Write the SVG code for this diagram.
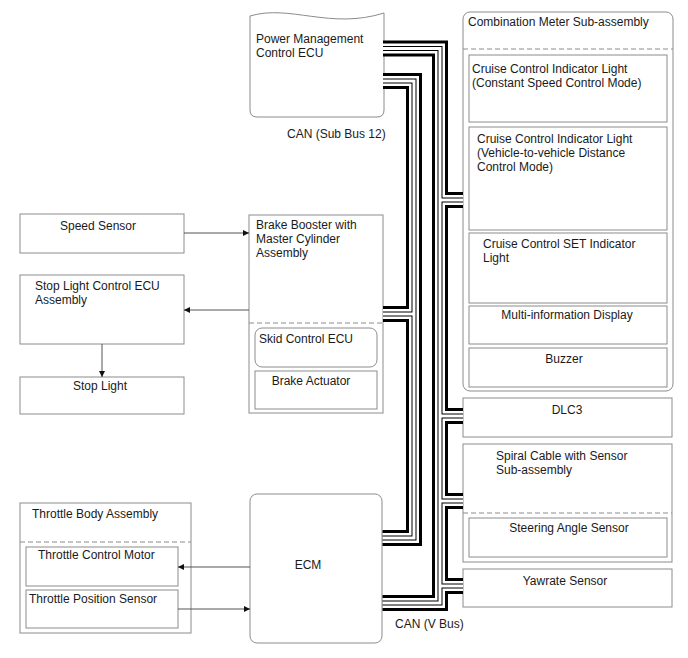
<svg xmlns="http://www.w3.org/2000/svg" xmlns:xlink="http://www.w3.org/1999/xlink" width="688" height="658" viewBox="0 0 688 658">
<style>
  .box { fill: #ffffff; stroke: #8c8c8c; stroke-width: 1; }
  .dash { fill: none; stroke: #8c8c8c; stroke-width: 1; stroke-dasharray: 5 3; }
  text { font-family: "Liberation Sans", Arial, sans-serif; font-size: 12px; fill: #1a1a1a; }
  .mid { text-anchor: middle; }
  .arrow { fill: none; stroke: #555555; stroke-width: 1; marker-end: url(#ah); }
  .c1 { fill: none; stroke: #000000; stroke-width: 16; stroke-linejoin: miter; }
  .c2 { fill: none; stroke: #ffffff; stroke-width: 10; stroke-linejoin: miter; }
  .c3 { fill: none; stroke: #000000; stroke-width: 5; stroke-linejoin: miter; }
  .c4 { fill: none; stroke: #ffffff; stroke-width: 3; stroke-linejoin: miter; }
</style>
<defs>
  <marker id="ah" viewBox="0 0 10 10" refX="10" refY="5" markerWidth="9" markerHeight="6" markerUnits="userSpaceOnUse" orient="auto">
    <path d="M0 0 L10 5 L0 10 Z" fill="#111111"/>
  </marker>
  <path id="trunk" d="M383 48.5 H440 V603 H382.5"/>
  <path id="bus2" d="M383 81 H414 V538 H382.5"/>
  <path id="brBooster" d="M383 314 H414"/>
  <path id="brMeter" d="M440 200 H463"/>
  <path id="brDlc" d="M440 416 H463"/>
  <path id="brSpiral" d="M440 501 H463"/>
  <path id="brYaw" d="M440 586 H463"/>
</defs>

<g id="pm-ecu">
  <path class="box" d="M250 16 C290 4 330 30 384 13 L384 110 Q384 117 377 117 H257 Q250 117 250 110 Z"/>
  <text x="256" y="43">Power Management</text>
  <text x="256" y="57">Control ECU</text>
</g>

<g id="combination-meter">
  <rect class="box" x="463" y="12" width="210" height="379" rx="7"/>
  <text x="468" y="26">Combination Meter Sub-assembly</text>
  <line class="dash" x1="463" y1="49" x2="673" y2="49"/>
  <g id="cc-indicator-constant">
    <rect class="box" x="469" y="55" width="198" height="67"/>
    <text x="472" y="73">Cruise Control Indicator Light</text>
    <text x="472" y="87">(Constant Speed Control Mode)</text>
  </g>
  <g id="cc-indicator-distance">
    <rect class="box" x="469" y="127" width="198" height="103"/>
    <text x="477" y="143">Cruise Control Indicator Light</text>
    <text x="477" y="157">(Vehicle-to-vehicle Distance</text>
    <text x="477" y="171">Control Mode)</text>
  </g>
  <g id="cc-set-indicator">
    <rect class="box" x="469" y="233" width="198" height="70"/>
    <text x="483" y="248">Cruise Control SET Indicator</text>
    <text x="483" y="262">Light</text>
  </g>
  <g id="multi-info-display">
    <rect class="box" x="469" y="306" width="198" height="38"/>
    <text class="mid" x="567" y="319">Multi-information Display</text>
  </g>
  <g id="buzzer">
    <rect class="box" x="469" y="348" width="198" height="39"/>
    <text class="mid" x="564" y="363">Buzzer</text>
  </g>
</g>

<g id="dlc3">
  <rect class="box" x="463" y="398" width="209" height="39"/>
  <text class="mid" x="567" y="414">DLC3</text>
</g>

<g id="spiral-cable">
  <rect class="box" x="463" y="444" width="209" height="118"/>
  <text x="496" y="460">Spiral Cable with Sensor</text>
  <text x="496" y="474">Sub-assembly</text>
  <line class="dash" x1="463" y1="513" x2="672" y2="513"/>
  <g id="steering-angle-sensor">
    <rect class="box" x="469" y="518" width="198" height="39"/>
    <text class="mid" x="569" y="532">Steering Angle Sensor</text>
  </g>
</g>

<g id="yawrate-sensor">
  <rect class="box" x="463" y="569" width="209" height="38"/>
  <text class="mid" x="565" y="585">Yawrate Sensor</text>
</g>

<g id="speed-sensor">
  <rect class="box" x="20" y="214" width="164" height="39"/>
  <text class="mid" x="98" y="230">Speed Sensor</text>
</g>

<g id="stop-light-ecu">
  <rect class="box" x="20" y="275" width="164" height="69"/>
  <text x="35" y="290">Stop Light Control ECU</text>
  <text x="35" y="304">Assembly</text>
</g>

<g id="stop-light">
  <rect class="box" x="20" y="377" width="164" height="37"/>
  <text class="mid" x="100" y="390">Stop Light</text>
</g>

<g id="brake-booster">
  <rect class="box" x="249" y="215" width="134" height="198"/>
  <text x="256" y="229">Brake Booster with</text>
  <text x="256" y="243">Master Cylinder</text>
  <text x="256" y="257">Assembly</text>
  <line class="dash" x1="249" y1="323" x2="383" y2="323"/>
  <g id="skid-control-ecu">
    <rect class="box" x="255" y="328" width="122" height="39" rx="7"/>
    <text x="259" y="343">Skid Control ECU</text>
  </g>
  <g id="brake-actuator">
    <rect class="box" x="255" y="371" width="122" height="38"/>
    <text class="mid" x="311" y="385">Brake Actuator</text>
  </g>
</g>

<g id="throttle-body">
  <rect class="box" x="20" y="503" width="171" height="130"/>
  <text x="32" y="518">Throttle Body Assembly</text>
  <line class="dash" x1="20" y1="542" x2="191" y2="542"/>
  <g id="throttle-control-motor">
    <rect class="box" x="26" y="547" width="152" height="39"/>
    <text x="38" y="559">Throttle Control Motor</text>
  </g>
  <g id="throttle-position-sensor">
    <rect class="box" x="26" y="590" width="152" height="38"/>
    <text x="29" y="603">Throttle Position Sensor</text>
  </g>
</g>

<g id="ecm">
  <rect class="box" x="250" y="494" width="132" height="149" rx="7"/>
  <text class="mid" x="308" y="569">ECM</text>
</g>

<g id="connectors">
  <g class="c1">
    <use xlink:href="#trunk"/><use xlink:href="#bus2"/><use xlink:href="#brBooster"/>
    <use xlink:href="#brMeter"/><use xlink:href="#brDlc"/><use xlink:href="#brSpiral"/><use xlink:href="#brYaw"/>
  </g>
  <g class="c2">
    <use xlink:href="#trunk"/><use xlink:href="#bus2"/><use xlink:href="#brBooster"/>
    <use xlink:href="#brMeter"/><use xlink:href="#brDlc"/><use xlink:href="#brSpiral"/><use xlink:href="#brYaw"/>
  </g>
  <g class="c3">
    <use xlink:href="#trunk"/><use xlink:href="#bus2"/><use xlink:href="#brBooster"/>
    <use xlink:href="#brMeter"/><use xlink:href="#brDlc"/><use xlink:href="#brSpiral"/><use xlink:href="#brYaw"/>
  </g>
  <g class="c4">
    <use xlink:href="#trunk"/><use xlink:href="#bus2"/><use xlink:href="#brBooster"/>
    <use xlink:href="#brMeter"/><use xlink:href="#brDlc"/><use xlink:href="#brSpiral"/><use xlink:href="#brYaw"/>
  </g>
  <line class="arrow" x1="184" y1="233" x2="249" y2="233"/>
  <line class="arrow" x1="249" y1="310" x2="184" y2="310"/>
  <line class="arrow" x1="102" y1="344" x2="102" y2="377"/>
  <line class="arrow" x1="250" y1="567" x2="178" y2="567"/>
  <line class="arrow" x1="178" y1="609" x2="250" y2="609"/>
  <text x="287" y="138">CAN (Sub Bus 12)</text>
  <text x="395" y="628">CAN (V Bus)</text>
</g>
</svg>
